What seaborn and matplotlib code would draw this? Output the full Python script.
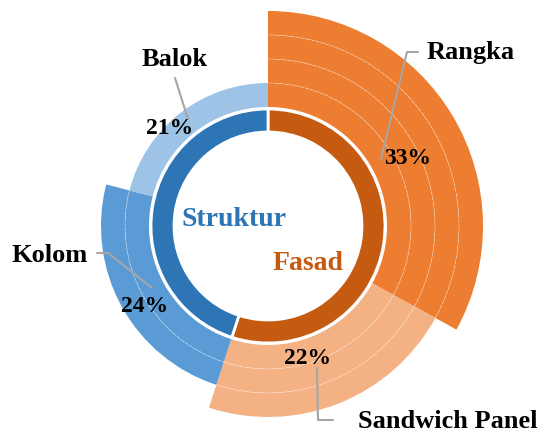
import seaborn as sns
import pandas as pd
import numpy as np
from matplotlib import pyplot as plt
from matplotlib.patches import Arc

# data
groups = ['Fasad', 'Struktur']
group_values = [55, 45]
group_colors = ['#C55A11', '#2E75B6']

items = ['Rangka', 'Sandwich Panel', 'Kolom', 'Balok']
item_values = [33, 22, 24, 21]
item_levels = [4, 3, 2, 1]
item_colors = ['#ED7D31', '#F4B183', '#5B9BD5', '#9DC3E6']

df = pd.DataFrame({'item': items, 'value': item_values,
                   'level': item_levels, 'color': item_colors})

sns.set_theme(style='white')
plt.rcParams['font.family'] = ['Liberation Serif', 'DejaVu Serif']

W, H = 541, 432
fig = plt.figure(figsize=(5.41, 4.32), dpi=100)
ax = fig.add_axes([0, 0, 1, 1])

cx, cy = 268, H - 226
hole_r = 94
inner_r = 117
ring0 = 119
band = 24

# outer ring, stacked bands
arcs = []
for lvl in range(1, df['level'].max() + 1):
    r = ring0 + lvl * band
    cols = [c if lv >= lvl else 'white' for c, lv in zip(df['color'], df['level'])]
    wedges, _ = ax.pie(df['value'], radius=r, center=(cx, cy), colors=cols,
                       startangle=90, counterclock=False,
                       wedgeprops=dict(width=band, linewidth=0))
    for w, lv in zip(wedges, df['level']):
        if lv < lvl:
            w.set_visible(False)
        elif lvl > 1:
            arcs.append(Arc((cx, cy), 2 * (r - band), 2 * (r - band),
                            theta1=w.theta1, theta2=w.theta2,
                            color='white', lw=0.5, alpha=0.5,
                            linestyle=(0, (6, 1.5)), zorder=5))
for a in arcs:
    ax.add_patch(a)

# inner ring
ax.pie(group_values, radius=inner_r, center=(cx, cy), colors=group_colors,
       startangle=90, counterclock=False,
       wedgeprops=dict(width=inner_r - hole_r, edgecolor='white', linewidth=2))

ax.set_xlim(0, W)
ax.set_ylim(0, H)
ax.set_aspect('equal')
ax.axis('off')

# labels (image coords: y from top)
def t(x, y, s, size, color='black'):
    ax.text(x, H - y, s, ha='center', va='center', fontsize=size,
            fontweight='bold', color=color, zorder=10)

lab_pos = {'Rangka': (471, 53), 'Sandwich Panel': (448, 421),
           'Kolom': (50, 255), 'Balok': (175, 60)}
pct_pos = {'Rangka': (408, 158), 'Sandwich Panel': (308, 359),
           'Kolom': (145, 307), 'Balok': (170, 128)}
leaders = {'Rangka': [(381, 159), (407, 52), (418, 52)],
           'Sandwich Panel': [(317, 368), (318, 420), (333, 420)],
           'Kolom': [(152, 288), (108, 253), (97, 253)],
           'Balok': [(188, 119), (175, 78)]}

for name, val in zip(df['item'], df['value']):
    pts = np.array(leaders[name], dtype=float)
    ax.plot(pts[:, 0], H - pts[:, 1], color='#A6A6A6', lw=1.5, zorder=8)
    t(*lab_pos[name], name, 19)
    t(*pct_pos[name], f'{val}%', 17)

t(234, 219, 'Struktur', 20, '#2E75B6')
t(308, 263, 'Fasad', 20, '#C55A11')

plt.savefig('out.png', dpi=100)
